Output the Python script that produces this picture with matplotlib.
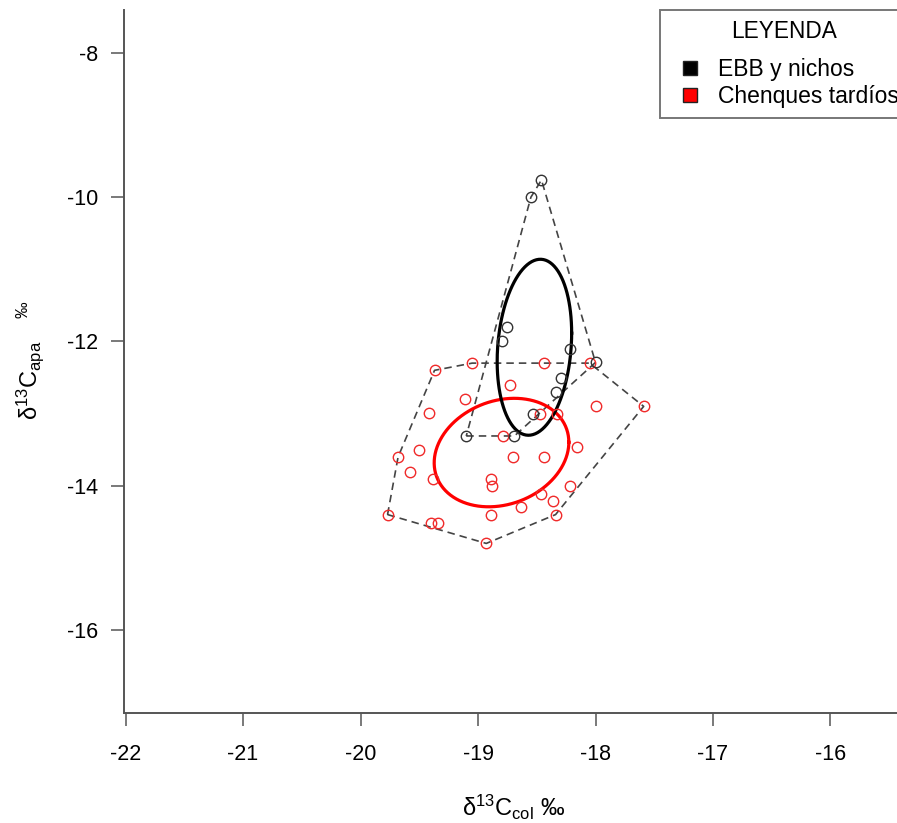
import numpy as np
import matplotlib
matplotlib.use("Agg")
import matplotlib.pyplot as plt
from matplotlib.lines import Line2D

plt.rcParams['font.family'] = ['Liberation Sans', 'DejaVu Sans']
plt.rcParams['mathtext.default'] = 'regular'
plt.rcParams['axes.unicode_minus'] = False

# EBB y nichos (d13C col, d13C apa)
ebb_col = [-18.46, -18.55, -18.75, -18.80, -18.22, -18.00, -18.29, -18.34, -18.53, -19.10, -18.69]
ebb_apa = [-9.76, -10.00, -11.80, -12.00, -12.11, -12.29, -12.50, -12.70, -13.00, -13.31, -13.31]

# Chenques tardios
chq_col = [-19.37, -19.05, -18.44, -18.05, -18.73, -19.11, -19.42, -18.47, -18.33, -18.00,
           -17.59, -18.79, -19.50, -19.68, -18.70, -18.44, -18.16, -19.58, -19.38, -18.89,
           -18.88, -18.22, -18.46, -18.36, -18.63, -18.89, -18.34, -19.77, -19.40, -19.34,
           -18.93]
chq_apa = [-12.40, -12.30, -12.30, -12.30, -12.60, -12.80, -12.99, -13.00, -13.00, -12.90,
           -12.90, -13.31, -13.51, -13.60, -13.60, -13.60, -13.46, -13.81, -13.91, -13.90,
           -14.01, -14.01, -14.11, -14.21, -14.30, -14.40, -14.40, -14.40, -14.51, -14.51,
           -14.80]

# ellipses: centre, sd x, sd y, correlation
ebb_ell = (-18.52, -12.08, 0.317, 1.22, 0.16)
chq_ell = (-18.80, -13.54, 0.573, 0.752, 0.19)

groups = ["EBB y nichos", "Chenques tardíos"]
colors = ["black", "red"]


def hull(xs, ys):
    pts = sorted(set(zip(xs, ys)))

    def cross(o, a, b):
        return (a[0] - o[0]) * (b[1] - o[1]) - (a[1] - o[1]) * (b[0] - o[0])
    lower, upper = [], []
    for p in pts:
        while len(lower) >= 2 and cross(lower[-2], lower[-1], p) <= 0:
            lower.pop()
        lower.append(p)
    for p in reversed(pts):
        while len(upper) >= 2 and cross(upper[-2], upper[-1], p) <= 0:
            upper.pop()
        upper.append(p)
    h = lower[:-1] + upper[:-1]
    h.append(h[0])
    return np.array(h)


def ellipse(cx, cy, sx, sy, rho, n=200):
    cov = np.array([[sx * sx, rho * sx * sy], [rho * sx * sy, sy * sy]])
    L = np.linalg.cholesky(cov)
    t = np.linspace(0, 2 * np.pi, n)
    xy = L @ np.vstack([np.cos(t), np.sin(t)])
    return xy[0] + cx, xy[1] + cy


fig = plt.figure(figsize=(8.97, 8.23), dpi=100)
ax = fig.add_axes([124 / 897, 1 - 713 / 823, 773 / 897, 703 / 823])

gray = "#555555"
for xs, ys, col, ell in [(chq_col, chq_apa, colors[1], chq_ell),
                         (ebb_col, ebb_apa, colors[0], ebb_ell)]:
    h = hull(xs, ys)
    ax.plot(h[:, 0], h[:, 1], color="#444444", lw=1.2, ls=(0, (4.5, 3)), zorder=2)
    ex, ey = ellipse(*ell)
    ax.plot(ex, ey, color=col, lw=2.3, zorder=3)

ax.plot(chq_col, chq_apa, 'o', ms=7.5, mfc='none', mec='#f02a2a', mew=1.0, zorder=4)
ax.plot(ebb_col, ebb_apa, 'o', ms=7.5, mfc='none', mec='#333333', mew=1.0, zorder=4)

ax.set_xlim(-22.013, -15.434)
ax.set_ylim(-17.151, -7.404)
ax.set_xticks(range(-22, -15))
ax.set_yticks(range(-16, -7, 2))
for s in ["top", "right"]:
    ax.spines[s].set_visible(False)
for s in ["left", "bottom"]:
    ax.spines[s].set_color(gray)
    ax.spines[s].set_linewidth(1.4)
ax.tick_params(axis='both', length=9.4, width=1.1, color=gray, labelsize=15.5)
ax.tick_params(axis='x', pad=13)
ax.tick_params(axis='y', pad=9)

fig.text(0.573, 0.008, r'$\delta^{13}C_{col}$ ‰', ha='center', va='baseline', fontsize=17)
fig.text(0.034, 0.562, r'$\delta^{13}C_{apa}\quad^{‰}$', ha='center', va='center',
         rotation=90, fontsize=17)

handles = [Line2D([], [], ls='none', marker='s', ms=10, mfc=c, mec='#222222', mew=1.0)
           for c in colors]
leg = ax.legend(handles, groups, title="LEYENDA", loc='upper left',
                bbox_to_anchor=(660 / 897, 1 - 10 / 823), bbox_transform=fig.transFigure,
                borderaxespad=0, fontsize=16.5, title_fontsize=16.3, frameon=True,
                fancybox=False, handlelength=1.77, handletextpad=0.33, labelspacing=0.17,
                borderpad=0.425)
leg.get_frame().set_edgecolor(gray)
leg.get_frame().set_linewidth(1.4)
leg._legend_box.sep = 11

fig.savefig("out.png", dpi=100)
